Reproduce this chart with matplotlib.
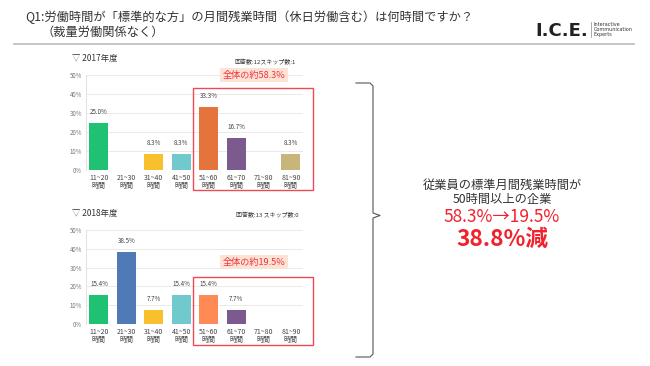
import matplotlib.pyplot as plt
from matplotlib.patches import Rectangle
from matplotlib.lines import Line2D

plt.rcParams['font.family'] = ['Noto Sans CJK JP', 'DejaVu Sans']

# data
categories = ['11~20\n時間', '21~30\n時間', '31~40\n時間', '41~50\n時間',
              '51~60\n時間', '61~70\n時間', '71~80\n時間', '81~90\n時間']
values_2017 = [25.0, 0, 8.3, 8.3, 33.3, 16.7, 0, 8.3]
values_2018 = [15.4, 38.5, 7.7, 15.4, 15.4, 7.7, 0, 0]
yticks = [0, 10, 20, 30, 40, 50]

colors_2017 = ['#1fc173', '#4f7ab5', '#f8c02e', '#6fc9cd', '#e5733c', '#7b5a8d', '#c8b57a', '#c8b57a']
colors_2018 = ['#1fc173', '#4f7ab5', '#f8c02e', '#6fc9cd', '#ff8a55', '#7b5a8d', '#c8b57a', '#c8b57a']

W, H = 650, 366
fig = plt.figure(figsize=(W / 100, H / 100), dpi=100)


def px(x0, y0, x1, y1):
    # pixel box (top-left origin) -> figure fraction rect
    return [x0 / W, 1 - y1 / H, (x1 - x0) / W, (y1 - y0) / H]


def fx(x):
    return x / W


def fy(y):
    return 1 - y / H


def draw_chart(rect, values, colors):
    ax = fig.add_axes(rect)
    pos = list(range(len(categories)))
    ax.bar(pos, values, width=0.69, color=colors, zorder=3)
    for p, v in zip(pos, values):
        if v > 0:
            ax.text(p, v + 3.6, f'{v:.1f}%', ha='center', va='bottom',
                    fontsize=4.5, color='#444444')
    ax.set_xlim(-0.47, 7.44)
    ax.set_ylim(0, 50)
    ax.set_yticks(yticks)
    ax.set_yticklabels([f'{t}%' for t in yticks])
    ax.set_xticks(pos)
    ax.set_xticklabels(categories, fontsize=5.0, color='#444444', linespacing=1.0)
    ax.tick_params(axis='y', labelsize=4.4, labelcolor='#777777', length=0, pad=3)
    ax.tick_params(axis='x', length=0, pad=3)
    ax.grid(axis='y', color='#e6e6e6', linewidth=0.6, zorder=0)
    for s in ['top', 'right', 'bottom']:
        ax.spines[s].set_visible(False)
    ax.spines['left'].set_color('#dddddd')
    ax.spines['left'].set_linewidth(0.6)
    ax.set_facecolor('none')
    return ax


# header
fig.text(fx(25), fy(17), 'Q1:労働時間が「標準的な方」の月間残業時間（休日労働含む）は何時間ですか？',
         fontsize=8.8, color='#333333', va='center')
fig.text(fx(42), fy(32), '（裁量労働関係なく）', fontsize=8.8, color='#333333', va='center')
fig.add_artist(Line2D([fx(14), fx(634)], [fy(44), fy(44)], color='#bbbbbb', linewidth=1.2))
fig.text(fx(535), fy(31), 'I.C.E.', fontsize=13, fontweight='bold', color='#222222',
         va='center', family='DejaVu Sans')
fig.add_artist(Line2D([fx(591), fx(591)], [fy(22), fy(37)], color='#888888', linewidth=0.5))
fig.text(fx(594), fy(29.5), 'Interactive\nCommunication\nExperts', fontsize=3.5, color='#333333',
         va='center', linespacing=1.1, family='DejaVu Sans')

# 2017 chart
fig.text(fx(72), fy(58), '▽ 2017年度', fontsize=6, color='#333333', va='center')
fig.text(fx(296), fy(62), '回答数:12スキップ数:1', fontsize=4.3, color='#333333',
         va='center', ha='right')
draw_chart(px(86, 75, 303, 170), values_2017, colors_2017)
fig.add_artist(Rectangle((fx(193), fy(190)), fx(313) - fx(193), fy(88) - fy(190),
                         fill=False, edgecolor='#ec4a55', linewidth=1.0))
fig.text(fx(254), fy(75), '全体の約58.3%', fontsize=6.6, color='#f2333d', ha='center', va='center',
         bbox=dict(boxstyle='square,pad=0.3', facecolor='#fde3d5', edgecolor='none'))

# 2018 chart
fig.text(fx(72), fy(213), '▽ 2018年度', fontsize=6, color='#333333', va='center')
fig.text(fx(299), fy(215), '回答数:13 スキップ数:0', fontsize=4.3, color='#333333',
         va='center', ha='right')
draw_chart(px(86, 230, 303, 324), values_2018, colors_2018)
fig.add_artist(Rectangle((fx(193), fy(345)), fx(313) - fx(193), fy(277) - fy(345),
                         fill=False, edgecolor='#ec4a55', linewidth=1.0))
fig.text(fx(254), fy(262), '全体の約19.5%', fontsize=6.6, color='#f2333d', ha='center', va='center',
         bbox=dict(boxstyle='square,pad=0.3', facecolor='#fde3d5', edgecolor='none'))

# brace
bx = [356, 370, 373, 373, 380, 373, 373, 370, 356]
by = [83, 83, 86, 213, 215.5, 218, 354, 357, 357]
fig.add_artist(Line2D([fx(x) for x in bx], [fy(y) for y in by], color='#555555', linewidth=0.8))

# summary text
fig.text(fx(502), fy(185), '従業員の標準月間残業時間が', fontsize=8.8, color='#333333',
         ha='center', va='center')
fig.text(fx(502), fy(199), '50時間以上の企業', fontsize=8.8, color='#333333',
         ha='center', va='center')
fig.text(fx(502), fy(217), '58.3%→19.5%', fontsize=12.5, color='#f2222d',
         ha='center', va='center')
fig.text(fx(502), fy(239), '38.8%減', fontsize=16.3, fontweight='bold', color='#f2222d',
         ha='center', va='center')

fig.savefig('out.png', dpi=100, facecolor='white')
